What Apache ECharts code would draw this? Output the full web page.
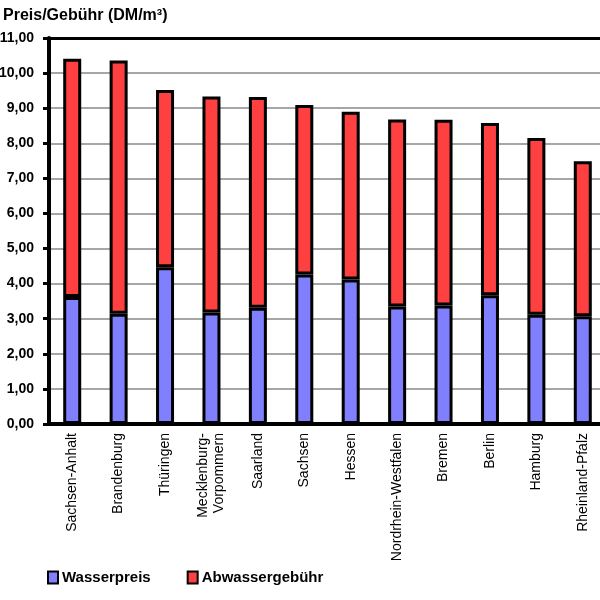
<!DOCTYPE html>
<html><head><meta charset="utf-8">
<script src="https://cdn.jsdelivr.net/npm/echarts@6/dist/echarts.min.js"></script>
<style>html,body{margin:0;padding:0;background:#fff}#c{width:600px;height:600px}</style>
</head><body><div id="c"></div>
<script>
const categories = ['Sachsen-Anhalt','Brandenburg','Thüringen','Mecklenburg-\nVorpommern','Saarland','Sachsen','Hessen','Nordrhein-Westfalen','Bremen','Berlin','Hamburg','Rheinland-Pfalz'];
const wasserpreis = [3.62,3.14,4.47,3.18,3.31,4.26,4.12,3.35,3.38,3.67,3.11,3.07];
const abwassergebuehr = [6.79,7.22,5.05,6.15,6.01,4.83,4.78,5.33,5.29,4.91,5.04,4.42];
const yTicks = {min:0, max:11, interval:1};

const font = 'Liberation Sans, Arial, sans-serif';
const chart = echarts.init(document.getElementById('c'), null, {renderer:'canvas'});
chart.setOption({
  animation:false,
  title:{text:'Preis/Gebühr (DM/m³)', left:-2, top:3, textStyle:{fontFamily:font, fontSize:16, fontWeight:'bold', color:'#000'}},
  legend:{left:42, top:565, itemWidth:10, itemHeight:12, itemGap:36, icon:'rect',
    textStyle:{fontFamily:font, fontSize:15, fontWeight:'bold', color:'#000', padding:[0,0,0,-1]},
    data:['Wasserpreis','Abwassergebühr']},
  grid:{left:49, top:38, width:557, height:386, containLabel:false, outerBoundsMode:'none'},
  xAxis:[{type:'category', data:categories, position:'bottom',
    axisLine:{lineStyle:{color:'#000', width:4}}, axisTick:{show:false},
    axisLabel:{rotate:90, interval:0, margin:9, fontFamily:font, fontSize:14, color:'#000', lineHeight:16}},
    {type:'category', data:categories, position:'top',
    axisLine:{lineStyle:{color:'#000', width:3}}, axisTick:{show:false}, axisLabel:{show:false}}],
  yAxis:{type:'value', min:yTicks.min, max:yTicks.max, interval:yTicks.interval,
    axisLine:{show:true, lineStyle:{color:'#000', width:4}},
    axisTick:{show:true, length:6, lineStyle:{color:'#000', width:3}},
    splitLine:{lineStyle:{color:'#888', width:1.5}},
    axisLabel:{margin:15, fontFamily:font, fontSize:14, fontWeight:'bold', color:'#000',
      formatter:v=>v.toFixed(2).replace('.',',')}},
  series:[
    {name:'Wasserpreis', type:'bar', stack:'s', barWidth:18, data:wasserpreis,
      itemStyle:{color:'#8080FF', borderColor:'#000', borderWidth:3}},
    {name:'Abwassergebühr', type:'bar', stack:'s', barWidth:18, data:abwassergebuehr,
      itemStyle:{color:'#FF4040', borderColor:'#000', borderWidth:3}}
  ]
});
</script></body></html>
